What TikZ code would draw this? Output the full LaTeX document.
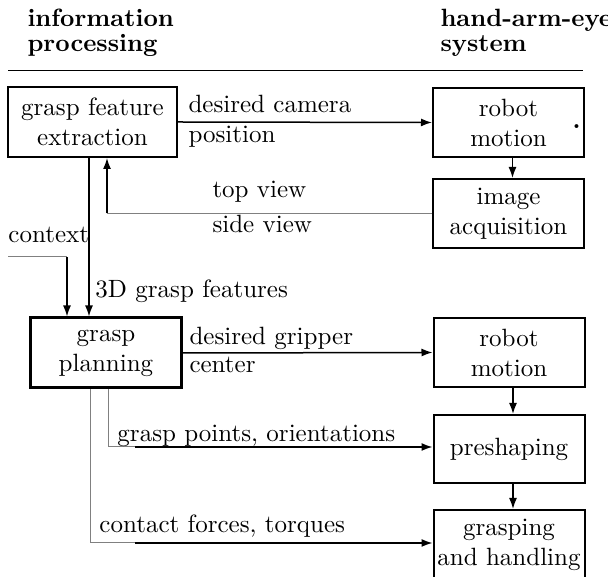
\documentclass[tikz,border=0pt]{standalone}
\usepackage{tikz}
\usetikzlibrary{arrows.meta}

\begin{document}
\begin{tikzpicture}[x=0.4pt,y=-0.4pt,
	box/.style={draw,line width=0.8pt,align=center,inner sep=0pt,minimum width=60.4pt,minimum height=27.6pt},
	flow/.style={line width=0.6pt,-{Latex[length=4.4pt,width=3.2pt]}},
	feed/.style={gray,line width=0.4pt},
	lbl/.style={anchor=base west,inner sep=0pt},
	head/.style={anchor=north west,inner sep=0pt,align=left,font=\bfseries}]
		\useasboundingbox (0,0) rectangle (608,577);
		\node[head] (hinfo) at (27,8.5) {information\\[-2pt]processing};
		\node[head] (hsys) at (440,8.5) {hand-arm-eye\\[-2pt]system};
		\draw[line width=0.4pt] (8,71) -- (583,71);
		\node[box,minimum width=67.6pt,minimum height=28pt] (gfe) at (92.5,122) {grasp feature\\extraction};
		\node[box] (rm1) at (508.5,122.5) {robot\\motion};
		\node[lbl,font=\bfseries] (dot) at (572,129) {.};
		\node[box] (img) at (508.5,213.5) {image\\acquisition};
		\node[box,line width=1.2pt,minimum width=60pt,minimum height=28pt] (gp) at (106,353) {grasp\\planning};
		\node[box] (rm2) at (509,352.5) {robot\\motion};
		\node[box,minimum height=27.2pt] (pre) at (509,449) {preshaping};
		\node[box] (gh) at (509,544.5) {grasping\\and handling};
		\coordinate (up) at ([xshift=5.8pt]gfe.south);
		\coordinate (dn) at ([xshift=-1.4pt]gfe.south);
		\coordinate (cx) at (8,257);
		\coordinate (cb) at (67,257);
		\coordinate (gpa) at ([xshift=0.8pt]gp.south);
		\coordinate (gpb) at ([xshift=-6.4pt]gp.south);
		\coordinate (pa) at (135,447);
		\coordinate (ca) at (135,543);
		\draw[flow] (gfe.east) -- (rm1.west);
		\draw[flow] ([xshift=1.6pt]rm1.south) -- ([xshift=1.6pt]img.north);
		\draw[feed] (img.west) -- (up |- img.west);
		\draw[flow] (up |- img.west) -- (up);
		\draw[flow] (dn) -- (dn |- gp.north);
		\draw[feed] (cx) -- (cb);
		\draw[flow] (cb) -- (cb |- gp.north);
		\draw[flow] (gp.east) -- (rm2.west);
		\draw[flow] ([xshift=1.6pt]rm2.south) -- ([xshift=1.6pt]pre.north);
		\draw[flow] ([xshift=1.6pt]pre.south) -- ([xshift=1.6pt]gh.north);
		\draw[feed] (gpa) |- (pa);
		\draw[flow] (pa) -- (pa -| pre.west);
		\draw[feed] (gpb) |- (ca);
		\draw[flow] (ca) -- (ca -| gh.west);
		\node[lbl] (ldc) at (188,113) {desired camera};
		\node[lbl] (lpos) at (188,143) {position};
		\node[lbl] (ltop) at (212,198) {top view};
		\node[lbl] (lside) at (212,233) {side view};
		\node[lbl] (lctx) at (8,243) {context};
		\node[lbl] (l3d) at (95,298) {3D grasp features};
		\node[lbl] (ldg) at (189,345) {desired gripper};
		\node[lbl] (lcen) at (189,373) {center};
		\node[lbl] (lgp) at (117,442) {grasp points, orientations};
		\node[lbl] (lcf) at (99,533) {contact forces, torques};
	\end{tikzpicture}
\end{document}
